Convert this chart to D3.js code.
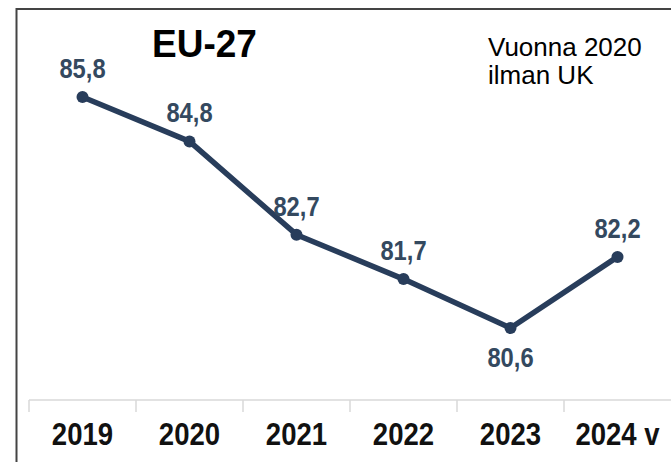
<!DOCTYPE html>
<html><head><meta charset="utf-8">
<script src="https://cdn.jsdelivr.net/npm/d3@7"></script>
<style>html,body{margin:0;padding:0;background:#fff;}svg{display:block;}</style>
</head><body>
<script>
const categories = ["2019","2020","2021","2022","2023","2024 v"];
const values = [85.8, 84.8, 82.7, 81.7, 80.6, 82.2];
const valueLabels = ["85,8","84,8","82,7","81,7","80,6","82,2"];
const labelBelow = [false,false,false,false,true,false];
const title = "EU-27";
const note = ["Vuonna 2020","ilman UK"];

const W = 671, H = 462;
const svg = d3.select("body").append("svg").attr("width", W).attr("height", H);
svg.append("rect").attr("width", W).attr("height", H).attr("fill", "#fff");
// frame
svg.append("rect").attr("x", 16.5).attr("y", 9).attr("width", W + 10).attr("height", H + 10)
  .attr("fill", "none").attr("stroke", "#444").attr("stroke-width", 2);

const x = d3.scaleBand().domain(categories).range([29, 671]).padding(0);
const y = d3.scaleLinear().domain([80, 86]).range([354.6, 88.1]);

// axis
const axisG = svg.append("g").attr("transform", "translate(0,400)");
axisG.append("line").attr("x1", 29).attr("x2", 671).attr("y1", 0).attr("y2", 0)
  .attr("stroke", "#d9d9d9").attr("stroke-width", 1.5);
axisG.selectAll("line.tick").data(categories).enter().append("line")
  .attr("class", "tick")
  .attr("x1", d => x(d)).attr("x2", d => x(d)).attr("y1", 0).attr("y2", 12)
  .attr("stroke", "#d9d9d9").attr("stroke-width", 1.5);
svg.selectAll("text.year").data(categories).enter().append("text")
  .attr("class", "year")
  .attr("transform", d => `translate(${x(d) + x.bandwidth() / 2},445) scale(0.95,1.08)`)
  .attr("text-anchor", "middle")
  .attr("font-family", "Arial, 'Liberation Sans', sans-serif")
  .attr("font-weight", "bold").attr("font-size", 29).attr("fill", "#111")
  .text(d => d);

const pts = categories.map((c, i) => ({c, v: values[i], lab: valueLabels[i], below: labelBelow[i]}));
const line = d3.line().x(d => x(d.c) + x.bandwidth() / 2).y(d => y(d.v));
svg.append("path").datum(pts).attr("d", line)
  .attr("fill", "none").attr("stroke", "#283d5b").attr("stroke-width", 5.5)
  .attr("stroke-linejoin", "round");
svg.selectAll("circle.pt").data(pts).enter().append("circle")
  .attr("class", "pt")
  .attr("cx", d => x(d.c) + x.bandwidth() / 2).attr("cy", d => y(d.v)).attr("r", 6)
  .attr("fill", "#283d5b");
svg.selectAll("text.val").data(pts).enter().append("text")
  .attr("class", "val")
  .attr("transform", d => `translate(${x(d.c) + x.bandwidth() / 2},${d.below ? y(d.v) + 39 : y(d.v) - 19}) scale(0.95,1.08)`)
  .attr("text-anchor", "middle")
  .attr("font-family", "Arial, 'Liberation Sans', sans-serif")
  .attr("font-weight", "bold").attr("font-size", 25).attr("fill", "#34495f")
  .text(d => d.lab);

svg.append("text").attr("transform", "translate(152,57) scale(1,1.05)")
  .attr("font-family", "Arial, 'Liberation Sans', sans-serif")
  .attr("font-weight", "bold").attr("font-size", 37).attr("fill", "#000")
  .text(title);
svg.selectAll("text.note").data(note).enter().append("text")
  .attr("class", "note")
  .attr("x", 488).attr("y", (d, i) => 56 + i * 28)
  .attr("font-family", "Arial, 'Liberation Sans', sans-serif")
  .attr("font-size", 26).attr("fill", "#000")
  .text(d => d);
</script>
</body></html>
